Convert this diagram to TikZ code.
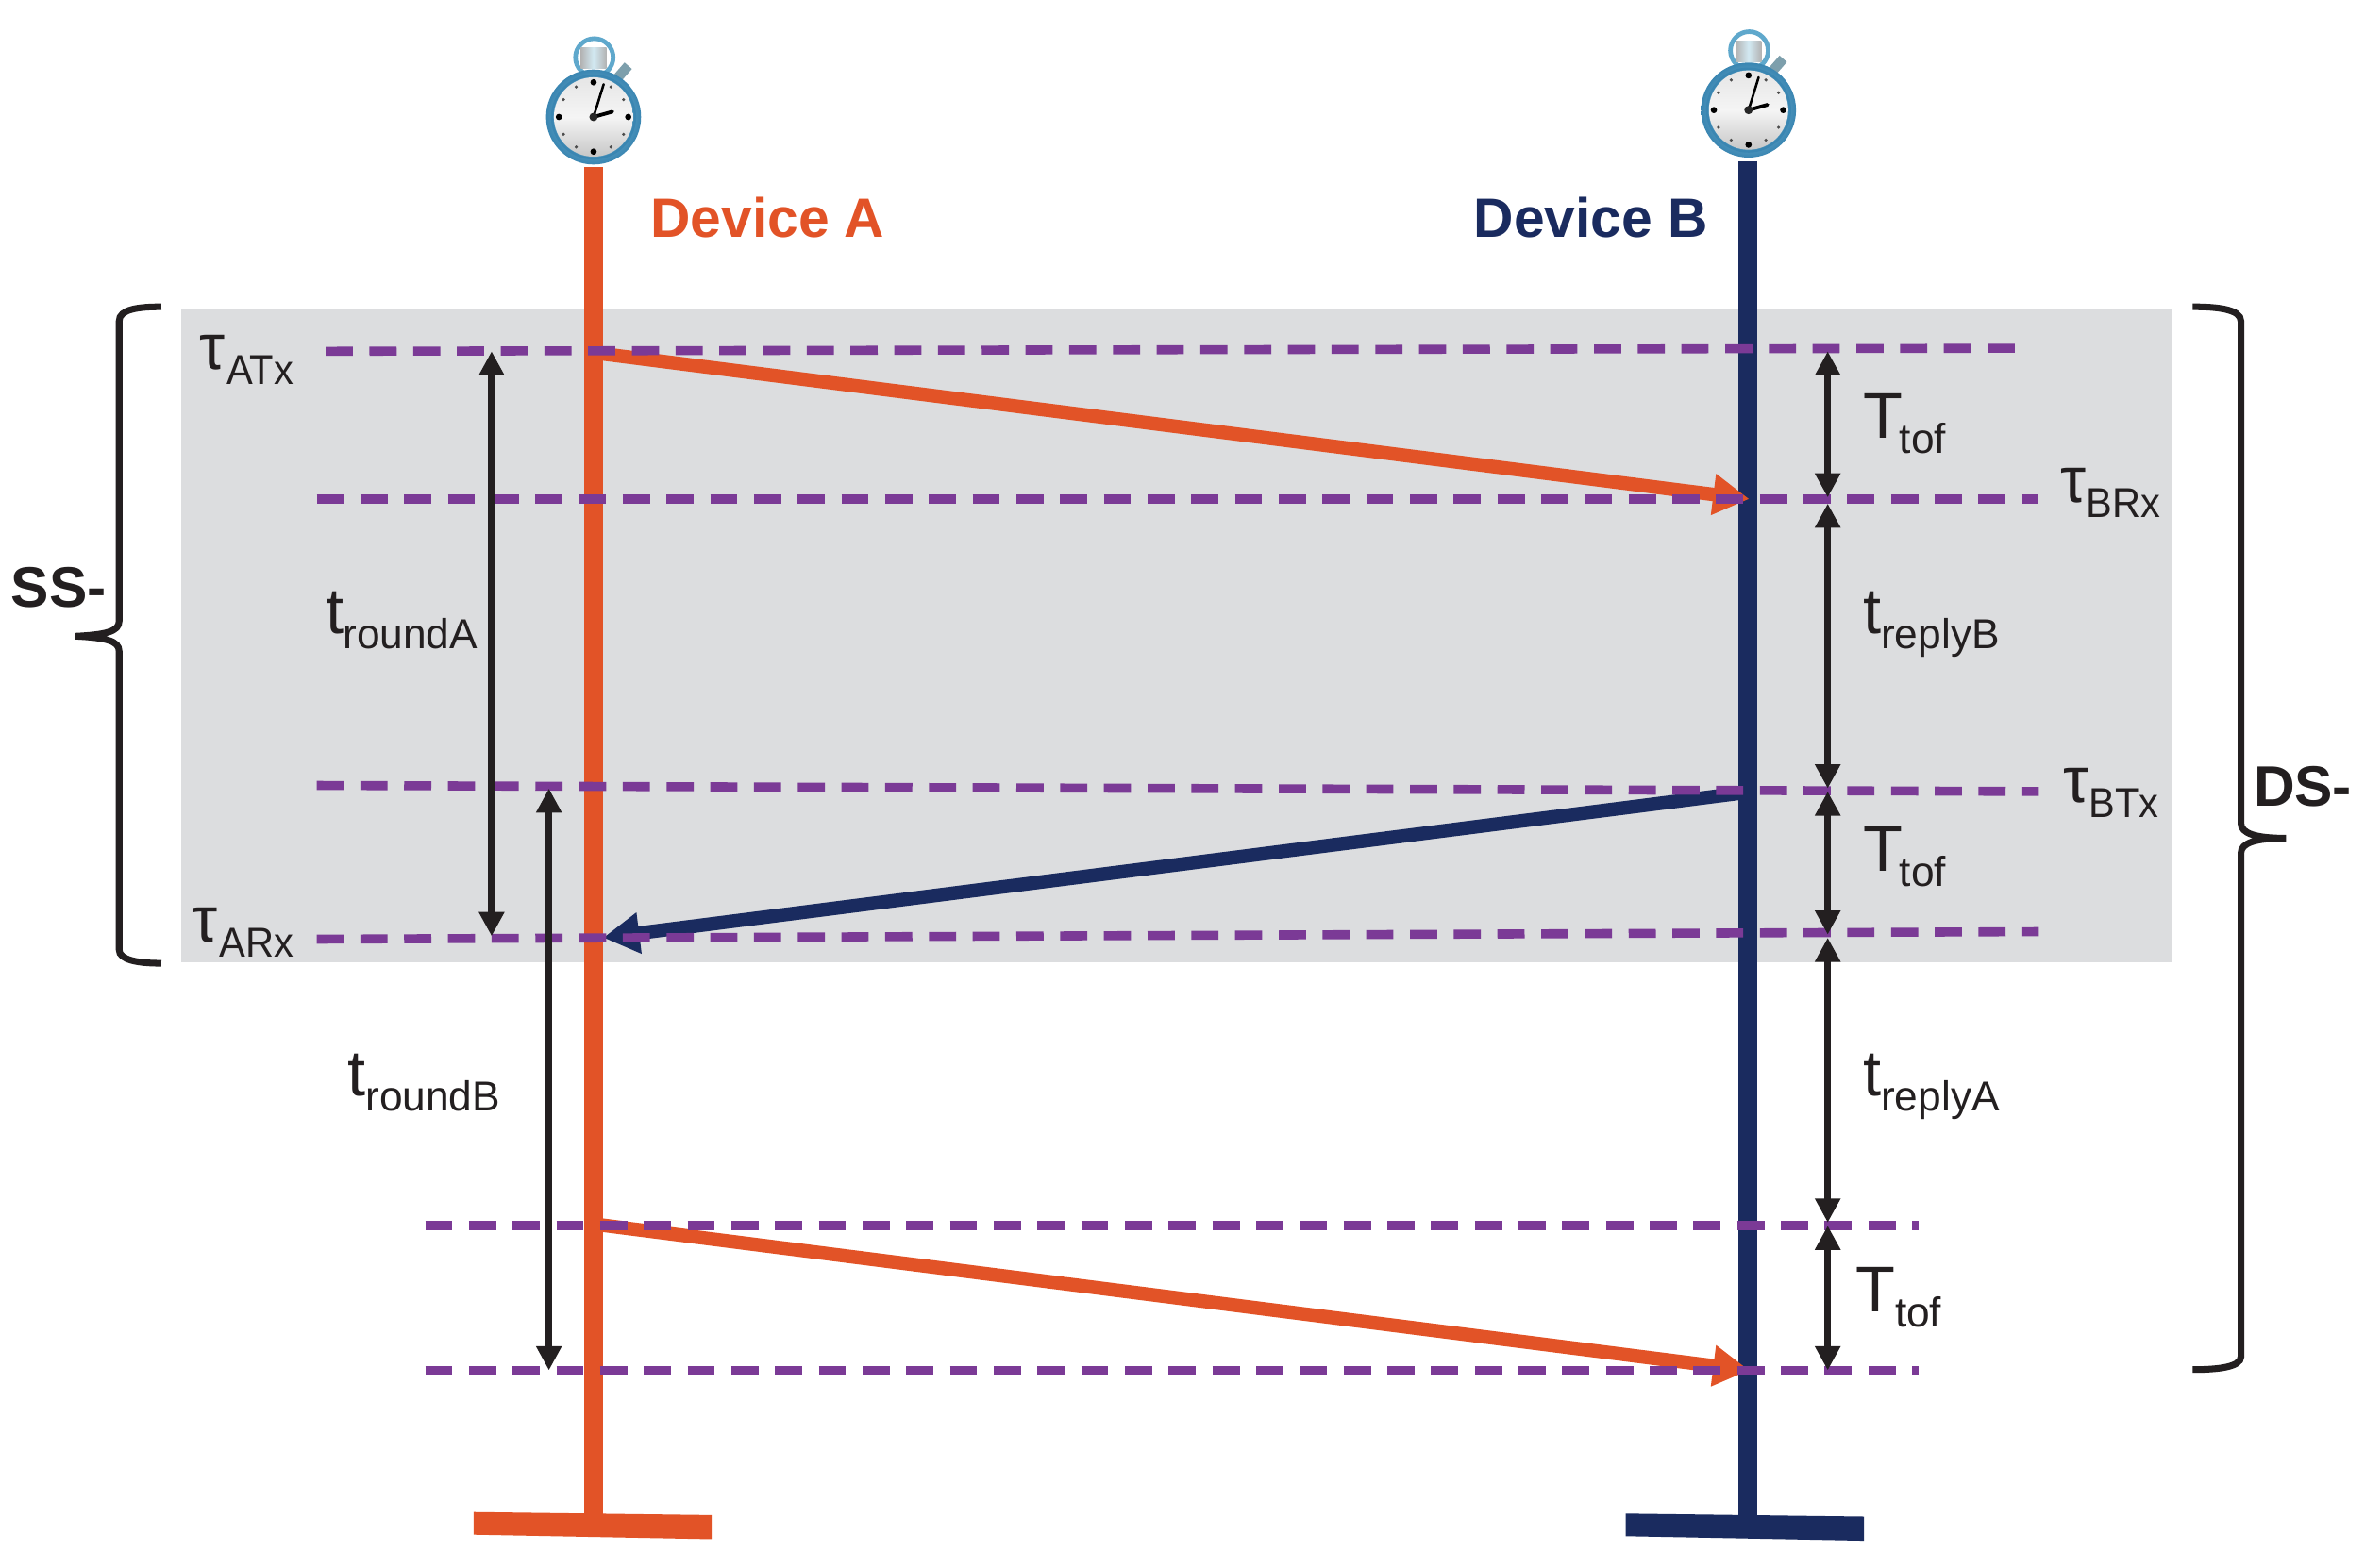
\documentclass[tikz,border=0pt]{standalone}
\usepackage{fontspec}
\setmainfont{Liberation Sans}
\usetikzlibrary{arrows.meta}
\newlength\dpx \setlength\dpx{0.01598cm}
\definecolor{devA}{HTML}{E25327}
\definecolor{devB}{HTML}{1A2B5F}
\definecolor{band}{HTML}{DCDDDF}
\definecolor{dash}{HTML}{7B3A96}
\definecolor{ink}{HTML}{231F20}
\definecolor{rimdark}{HTML}{3A86B2}
\definecolor{rimmid}{HTML}{5FA8CC}
\definecolor{rimlight}{HTML}{A6D4E6}
\newcommand{\lbl}[3][0]{{\fontsize{19.5pt}{20pt}\selectfont #2}\kern#1\dpx\raisebox{-10\dpx}{\fontsize{12.6pt}{13pt}\selectfont #3}}
\newcommand{\taulbl}[2][0]{{\fontsize{19.5pt}{20pt}\selectfont τ}\kern#1\dpx\raisebox{-10\dpx}{\scalebox{0.94}[1]{\fontsize{12.6pt}{13pt}\selectfont #2}}}
\tikzset{
  x=\dpx,y=-\dpx,
  lifeA/.style={draw=devA,line width=12.5\dpx},
  lifeB/.style={draw=devB,line width=12.5\dpx},
  level/.style={draw=dash,line width=6\dpx,dash pattern=on 18\dpx off 11\dpx},
  msgA/.style={draw=devA,line width=9\dpx,-{Triangle[length=10.9pt,width=11.8pt,fill=devA]}},
  msgB/.style={draw=devB,line width=9\dpx,-{Triangle[length=10.9pt,width=11.8pt,fill=devB]}},
  span/.style={draw=ink,line width=4.4\dpx,{Triangle[length=7.3pt,width=7.3pt]}-{Triangle[length=7.3pt,width=7.3pt]}},
  brace/.style={draw=ink,line width=4.4\dpx},
  lab/.style={anchor=base west,inner sep=0pt,text=ink},
  head/.style={anchor=base west,inner sep=0pt,font=\bfseries\fontsize{16.7pt}{18pt}\selectfont},
  side/.style={anchor=base west,inner sep=0pt,text=ink,font=\bfseries\fontsize{17.2pt}{18pt}\selectfont},
  watch/.pic={
    % crown ring
    \draw[draw=rimmid,line width=3\dpx] (0.5,-39.5) circle (12.5);
    \shade[left color=black!30,right color=black!30,middle color=rimlight!50!white] (-8.5,-46) rectangle (8.5,-32);
    % pusher
    \draw[draw=black!25!rimlight,line width=6.5\dpx] (16,-26) -- (23,-34);
    % case
    \shade[inner color=rimlight,outer color=rimdark] (0,0) circle (31.5);
    \draw[draw=rimdark,line width=1.5\dpx] (0,0) circle (27.5);
    % face
    \shade[top color=white!90!black,bottom color=black!22,middle color=white!96!black] (0,0) circle (26.3);
    \foreach \a in {0,90,180,270}
      \fill[black] (\a:23) circle (2.1);
    \foreach \a in {30,60,120,150,210,240,300,330}
      \fill[black!70] (\a:23) circle (1.1);
    % hands
    \draw[black,line width=1.6\dpx,line cap=round] (0,0) -- (6.7,-21.7);
    \draw[black,line width=2.4\dpx,line cap=round] (0,0) -- (12.5,-3.5);
    \fill[black!85] (0,0) circle (2.8);
  }
}
\begin{document}
\begin{tikzpicture}
\useasboundingbox[fill=white] (0,0) rectangle (1568.3,1040.1);

% shaded band
\fill[band] (120,205) rectangle (1440,638.5);

% stop watches
\pic at (393.6,77.6) {watch};
\pic at (1159.5,73) {watch};

% coordinates
\coordinate (atop) at (393.5,111);
\coordinate (abot) at (393.5,1006);
\coordinate (btop) at (1159.3,107);
\coordinate (bbot) at (1159.3,1006);

% life lines and feet
\draw[lifeA] (atop) -- (abot);
\draw[lifeB] (btop) -- (bbot);
\fill[devA] (314,1003) -- (472,1005) -- (472,1021) -- (314,1018) -- cycle;
\fill[devB] (1078,1004) -- (1236,1006) -- (1236,1022) -- (1078,1019) -- cycle;

% messages
\coordinate (m1a) at (398,234.5);
\coordinate (m1b) at (1160,331);
\coordinate (m2a) at (1155,526);
\coordinate (m2b) at (400,622);
\coordinate (m3a) at (398,812.5);
\coordinate (m3b) at (1160,909);
\draw[msgA] (m1a) -- (m1b);
\draw[msgB] (m2a) -- (m2b);
\draw[msgA] (m3a) -- (m3b);

% levels
\coordinate (l1a) at (216,233);  \coordinate (l1b) at (1338,231);
\coordinate (l2a) at (210,331);  \coordinate (l2b) at (1352,331);
\coordinate (l3a) at (210,521);  \coordinate (l3b) at (1352,525);
\coordinate (l4a) at (210,623);  \coordinate (l4b) at (1352,618);
\coordinate (l5a) at (282,813);  \coordinate (l5b) at (1272,813);
\coordinate (l6a) at (282,909);  \coordinate (l6b) at (1272,909);
\draw[level] (l1a) -- (l1b);
\draw[level] (l2a) -- (l2b);
\draw[level] (l3a) -- (l3b);
\draw[level] (l4a) -- (l4b);
\draw[level] (l5a) -- (l5b);
\draw[level] (l6a) -- (l6b);

% spans
\coordinate (s1a) at (326,233);  \coordinate (s1b) at (326,621);
\coordinate (s2a) at (364,523);  \coordinate (s2b) at (364,909);
\coordinate (r0) at (1212,233);
\coordinate (r1a) at (1212,330); \coordinate (r1b) at (1212,334);
\coordinate (r2a) at (1212,523); \coordinate (r2b) at (1212,525);
\coordinate (r3a) at (1212,620); \coordinate (r3b) at (1212,622);
\coordinate (r4a) at (1212,811); \coordinate (r4b) at (1212,813);
\coordinate (r5) at (1212,909);
\draw[span] (s1a) -- (s1b);
\draw[span] (s2a) -- (s2b);
\draw[span] (r0) -- (r1a);
\draw[span] (r1b) -- (r2a);
\draw[span] (r2b) -- (r3a);
\draw[span] (r3b) -- (r4a);
\draw[span] (r4b) -- (r5);

% braces
\draw[brace] (107,203.5) .. controls (92,203.5) and (79,205) .. (79,213) -- (79,412)
  .. controls (79,419) and (70,421) .. (50,422)
  .. controls (70,423) and (79,425) .. (79,432) -- (79,630)
  .. controls (79,637) and (92,639) .. (107,639);
\draw[brace] (1454,203.5) .. controls (1470,203.5) and (1486,205) .. (1486,213) -- (1486,546)
  .. controls (1486,553) and (1496,556) .. (1516,556)
  .. controls (1496,556) and (1486,559) .. (1486,566) -- (1486,900)
  .. controls (1486,907) and (1470,908.5) .. (1454,908.5);

% labels
\node[head,text=devA] (devAname) at (431,157.5) {Device A};
\node[head,text=devB] (devBname) at (977,157.5) {Device B};
\node[side] (ss) at (7,403) {SS-};
\node[side] (ds) at (1494,535) {DS-};
\node[lab] (tATx) at (132,245) {\taulbl[1]{ATx}};
\node[lab] (tARx) at (127,625) {\taulbl[1]{ARx}};
\node[lab] (tBRx) at (1366,333) {\taulbl{BRx}};
\node[lab] (tBTx) at (1368,532) {\taulbl{BTx}};
\node[lab] (tof1) at (1235,291) {\lbl[-2]{T}{tof}};
\node[lab] (tof2) at (1235,578) {\lbl[-2]{T}{tof}};
\node[lab] (tof3) at (1230,870) {\lbl{T}{tof}};
\node[lab] (rA) at (216,420) {\lbl[-1]{t}{roundA}};
\node[lab] (rB) at (230,727) {\lbl{t}{roundB}};
\node[lab] (pB) at (1235,420) {\lbl{t}{replyB}};
\node[lab] (pA) at (1235,727) {\lbl{t}{replyA}};
\end{tikzpicture}
\end{document}
